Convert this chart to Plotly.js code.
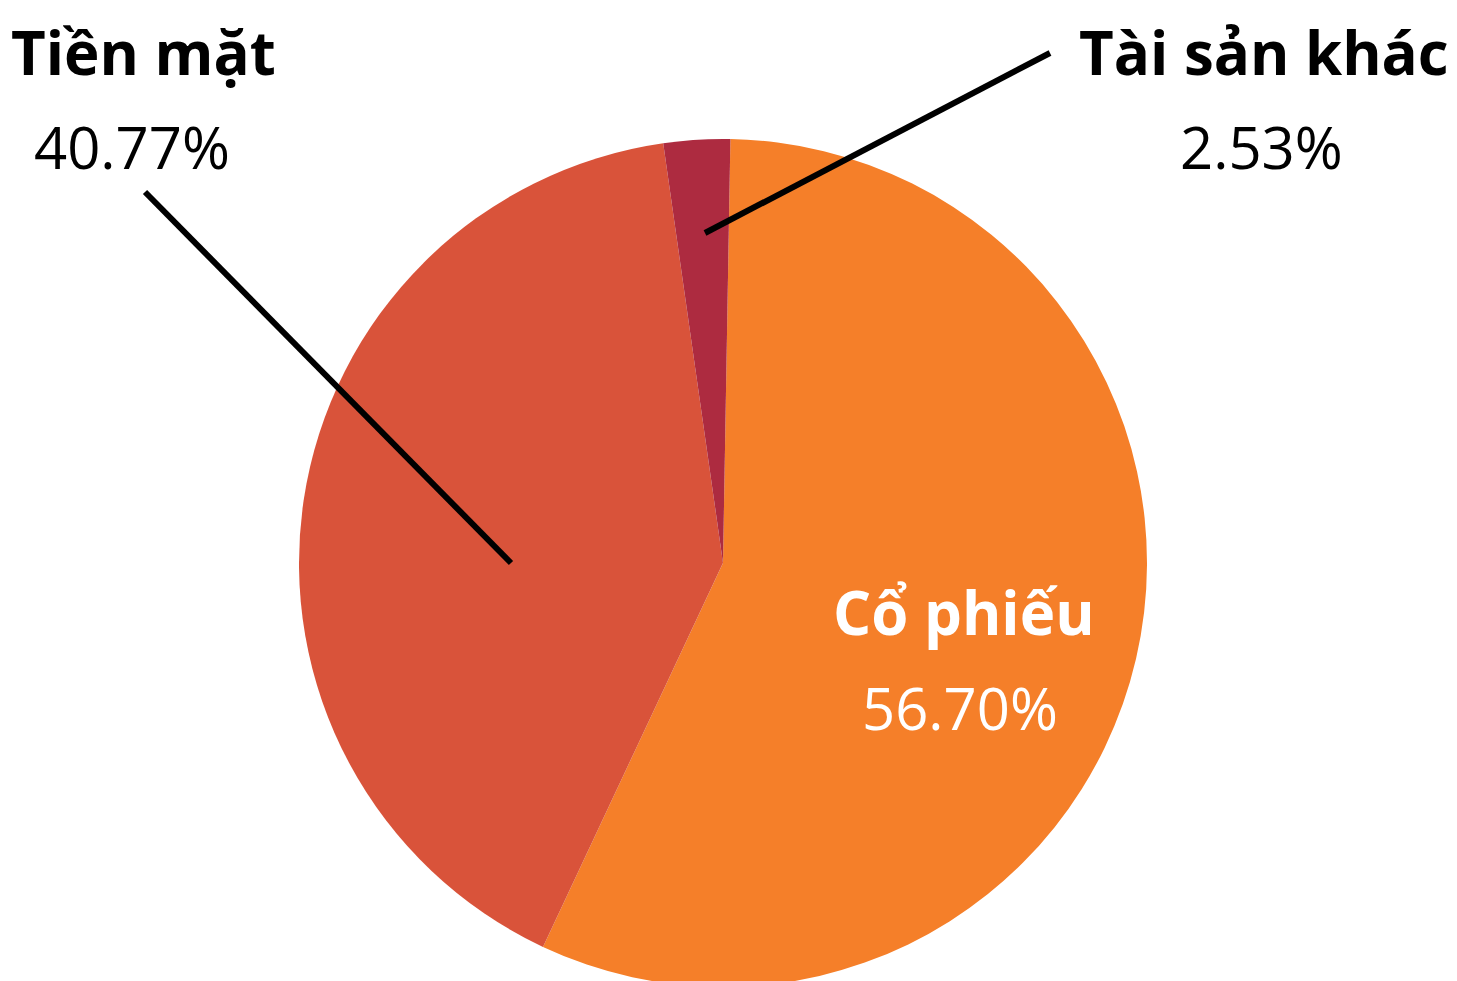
<!DOCTYPE html>
<html>
<head>
<meta charset="utf-8">
<script src="https://cdn.plot.ly/plotly-3.0.1.min.js"></script>
<style>
html,body{margin:0;padding:0;overflow:hidden;background:#fff;}
#chart{width:1457px;height:987px;}
</style>
</head>
<body>
<div id="chart"></div>
<script>
const labels = ["Cổ phiếu", "Tiền mặt", "Tài sản khác"];
const values = [56.70, 40.77, 2.53];
const colors = ["#F57F29", "#D9533A", "#AD2B40"];

const W = 1457, H = 987;
const px = x => x / W;
const py = y => 1 - y / H;
const fmt = v => v.toFixed(2) + "%";

// label positions (pixels) for name and value, per slice
const labelPos = [
  {nx: 964, ny: 612, vx: 960, vy: 707, color: "#FFFFFF"},
  {nx: 143, ny: 52, vx: 132, vy: 146, color: "#000000"},
  {nx: 1264, ny: 52, vx: 1261, vy: 146, color: "#000000"}
];

const annotations = [];
labels.forEach((lab, i) => {
  const p = labelPos[i];
  annotations.push({
    text: "<b>" + lab + "</b>", x: px(p.nx), y: py(p.ny), xref: "paper", yref: "paper",
    xanchor: "center", yanchor: "middle", showarrow: false,
    font: {family: "Open Sans, sans-serif", size: 60, weight: 800, color: p.color}
  });
  annotations.push({
    text: fmt(values[i]), x: px(p.vx), y: py(p.vy), xref: "paper", yref: "paper",
    xanchor: "center", yanchor: "middle", showarrow: false,
    font: {family: "Open Sans, sans-serif", size: 58, color: p.color}
  });
});

const leaders = [
  [145, 192, 511, 563],
  [1050, 53, 705, 233]
];
const shapes = leaders.map(l => ({
  type: "line", xref: "paper", yref: "paper",
  x0: px(l[0]), y0: py(l[1]), x1: px(l[2]), y1: py(l[3]),
  line: {color: "#000000", width: 6}
}));

const trace = {
  type: "pie",
  labels: labels,
  values: values,
  sort: false,
  direction: "clockwise",
  rotation: 1,
  textinfo: "none",
  hoverinfo: "label+percent",
  marker: {colors: colors, line: {width: 0}},
  domain: {x: [299 / W, 1147 / W], y: [0, 848 / H]}
};

Plotly.newPlot("chart", [trace], {
  width: W, height: H,
  margin: {l: 0, r: 0, t: 0, b: 0},
  showlegend: false,
  paper_bgcolor: "#FFFFFF",
  annotations: annotations,
  shapes: shapes
}, {displayModeBar: false, staticPlot: true});
</script>
</body>
</html>
